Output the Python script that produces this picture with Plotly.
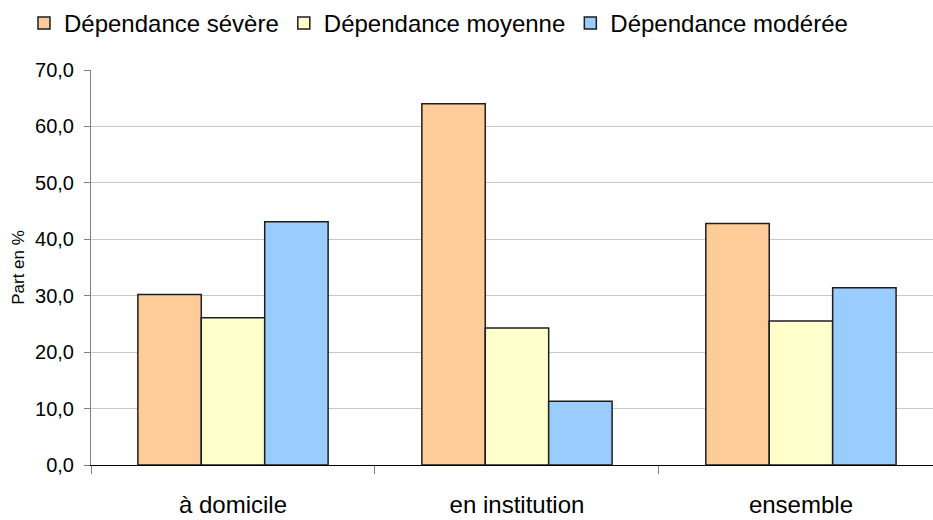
import plotly.graph_objects as go

categories = ["à domicile", "en institution", "ensemble"]
severe = [30.2, 64.0, 42.8]
moyenne = [26.1, 24.3, 25.5]
moderee = [43.1, 11.3, 31.4]
series_names = ["Dépendance sévère", "Dépendance moyenne", "Dépendance modérée"]
colors = ["#FFCC99", "#FFFFCC", "#99CCFF"]
y_ticks = [0, 10, 20, 30, 40, 50, 60, 70]

fig = go.Figure()
for name, vals, col in zip(series_names, [severe, moyenne, moderee], colors):
    fig.add_trace(go.Bar(
        x=categories, y=vals, name=name,
        marker=dict(color=col, line=dict(color="#1E1E1E", width=1.5)),
    ))

font_family = "Liberation Sans, Arial, sans-serif"
fig.update_layout(
    width=933, height=520,
    margin=dict(l=91, r=0, t=70, b=55),
    paper_bgcolor="white", plot_bgcolor="white",
    barmode="group", bargap=0.33, bargroupgap=0,
    separators=", ",
    font=dict(family=font_family, color="black"),
    showlegend=True,
    legend=dict(orientation="h", x=-0.0796, y=1.175, xanchor="left", yanchor="top",
                font=dict(size=24), itemwidth=30, tracegroupgap=0),
    xaxis=dict(range=[-0.5, 2.465], showline=True, linecolor="black", linewidth=1,
               ticks="outside", tickson="boundaries", ticklen=8, tickcolor="#808080",
               tickfont=dict(size=24), showgrid=False, automargin=False,
               ticklabelstandoff=18),
    yaxis=dict(range=[0, 70], tickvals=y_ticks, tickformat=".1f",
               showline=True, linecolor="#808080", linewidth=1,
               ticks="outside", ticklen=6, tickcolor="#808080",
               gridcolor="#C8C8C8", gridwidth=1, automargin=False,
               tickfont=dict(size=20), ticklabelstandoff=6,
               title=dict(text="Part en %", font=dict(size=17), standoff=6)),
)
fig.write_html("out.html", config={"displayModeBar": False},
               post_script="document.body.style.margin='0';")
